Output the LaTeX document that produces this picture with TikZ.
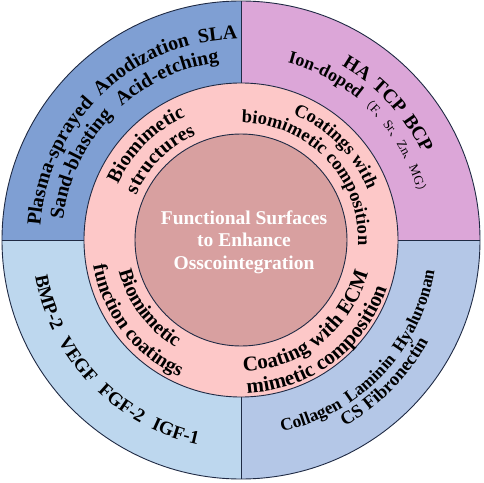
\documentclass[tikz,border=0pt]{standalone}
\usepackage{fontspec}
\setmainfont{Liberation Serif}
\newfontfamily\cjkf{Noto Sans CJK SC}
\usetikzlibrary{decorations.text}
\newcommand\myb[1]{\bfseries\rmfamily\fontsize{#1}{#1}\selectfont}
\newcommand\myr[1]{\mdseries\rmfamily\fontsize{#1}{#1}\selectfont}
\newcommand\myc[1]{\mdseries\cjkf\fontsize{#1}{#1}\selectfont}
\definecolor{cTL}{HTML}{7F9FD3}
\definecolor{cTR}{HTML}{DCA6D8}
\definecolor{cBL}{HTML}{BDD7EE}
\definecolor{cBR}{HTML}{B4C7E7}
\definecolor{cRing}{HTML}{FDC8C8}
\definecolor{cCore}{HTML}{D8A0A0}
\definecolor{cLine}{HTML}{1F2A44}
\tikzset{
  ctext/.style={decorate, decoration={text along path, text align=center, text={#1}}},
  stext/.style={decorate, decoration={text along path, text align={fit to path stretching spaces}, text={#1}}},
  edge line/.style={draw=cLine, line width=0.9pt},
}
\begin{document}
\begin{tikzpicture}
\useasboundingbox (-241pt,-242pt) rectangle (243pt,240pt);
% outer quadrants
\fill[cTL] (0,0) -- (180:239pt) arc[start angle=180, end angle=90, radius=239pt] -- cycle;
\fill[cTR] (0,0) -- (90:239pt) arc[start angle=90, end angle=0, radius=239pt] -- cycle;
\fill[cBL] (0,0) -- (180:239pt) arc[start angle=180, end angle=270, radius=239pt] -- cycle;
\fill[cBR] (0,0) -- (270:239pt) arc[start angle=270, end angle=360, radius=239pt] -- cycle;
\draw[edge line] (0,0) circle[radius=239pt];
\draw[edge line] (0,157pt) -- (0,239pt);
\draw[edge line] (0,-157pt) -- (0,-239pt);
\draw[edge line] (-157pt,0) -- (-239pt,0);
\draw[edge line] (157pt,0) -- (239pt,0);
% rings
\filldraw[edge line, fill=cRing] (0,0) circle[radius=157pt];
\filldraw[edge line, fill=cCore] (0,0) circle[radius=106pt];
% centre title
\node[text=white, font=\myb{19.5}, align=center, inner sep=0pt] (title) at (3pt,-2pt)
  {Functional Surfaces\\[3pt]to Enhance\\[3pt]Osscointegration};
% outer top-left
\path[stext={|\myb{20}|Plasma-sprayed Anodization SLA}] (176:201pt) arc[start angle=176, end angle=91, radius=201pt];
\path[stext={|\myb{20}|Sand-blasting Acid-etching}] (173.5:179pt) arc[start angle=173.5, end angle=97, radius=179pt];
% pink top-left
\path[ctext={|\myb{20}|Biomimetic}] (195:135pt) arc[start angle=195, end angle=75, radius=135pt];
\path[ctext={|\myb{20}|structures}] (195:114pt) arc[start angle=195, end angle=75, radius=114pt];
% pink top-right
\path[ctext={|\myb{18.5}|Coatings with}] (104.5:136pt) arc[start angle=104.5, end angle=-15.5, radius=136pt];
\path[ctext={|\myb{18.5}|biomimetic composition}] (103.5:117pt) arc[start angle=103.5, end angle=-16.5, radius=117pt];
% outer top-right
\path[stext={|\myb{19.5}|HA TCP BCP}] (60:201pt) arc[start angle=60, end angle=25.5, radius=201pt];
\path[ctext={|\myb{18}|Ion-doped |\myc{12}|（|\myr{13}|F|\myc{12}|、|\myr{13}|Sr|\myc{12}|、|\myr{13}|Zn|\myc{12}|、|\myr{13}|MG|\myc{12}|）}] (104.3:183pt) arc[start angle=104.3, end angle=-15.7, radius=183pt];
% pink bottom-left
\path[ctext={|\myb{20}|Biomimetic}] (156.5:126pt) arc[start angle=156.5, end angle=276.5, radius=126pt];
\path[ctext={|\myb{20}|function coatings}] (157.8:150pt) arc[start angle=157.8, end angle=277.8, radius=150pt];
% pink bottom-right
\path[ctext={|\myb{21}|Coating with ECM}] (248.25:131pt) arc[start angle=248.25, end angle=368.25, radius=131pt];
\path[ctext={|\myb{21}|mimetic composition}] (247:153.5pt) arc[start angle=247, end angle=367, radius=153.5pt];
% outer bottom-left
\path[stext={|\myb{19}|BMP-2 VEGF FGF-2 IGF-1}] (190:209pt) arc[start angle=190, end angle=258, radius=209pt];
% outer bottom-right
\path[stext={|\myb{17.5}|Collagen Laminin Hyaluronan}] (282:196pt) arc[start angle=282, end angle=351, radius=196pt];
\path[ctext={|\myb{18.5}|CS Fibronectin}] (255.4:213pt) arc[start angle=255.4, end angle=375.4, radius=213pt];
\end{tikzpicture}
\end{document}
